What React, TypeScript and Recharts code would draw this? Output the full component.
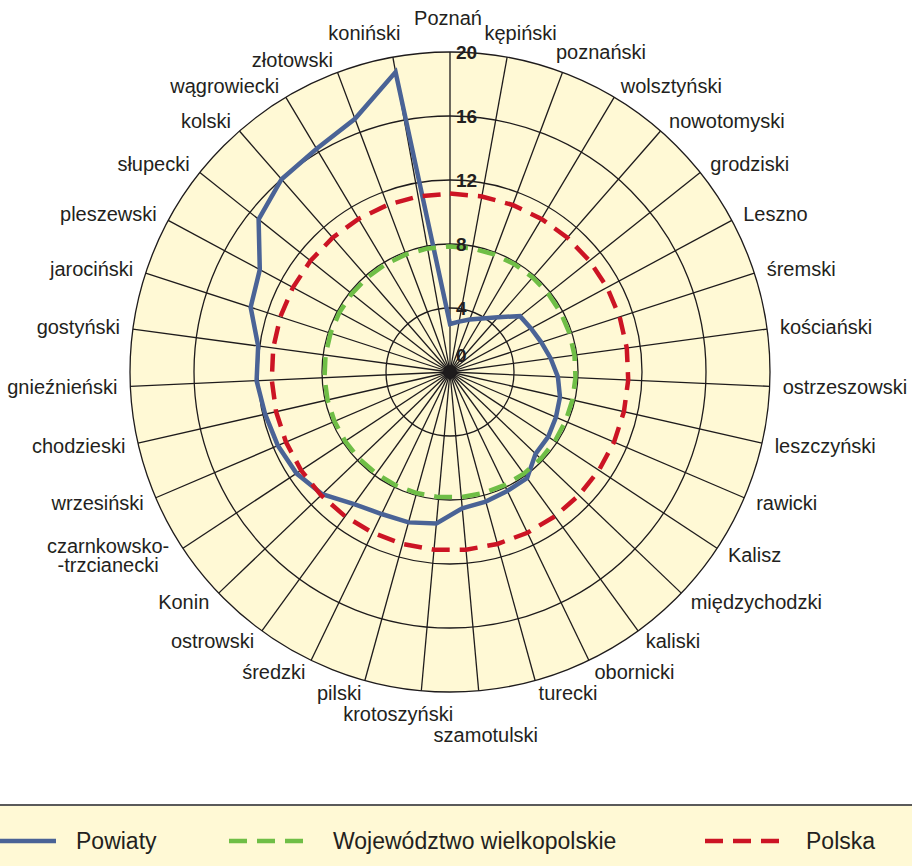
import React from "react";
import { RadarChart, Radar, PolarGrid, PolarAngleAxis, PolarRadiusAxis } from "recharts";

const CATEGORIES = [
  "Poznań", "kępiński", "poznański", "wolsztyński", "nowotomyski", "grodziski", "Leszno",
  "śremski", "kościański", "ostrzeszowski", "leszczyński", "rawicki", "Kalisz", "międzychodzki",
  "kaliski", "obornicki", "turecki", "szamotulski", "krotoszyński", "pilski", "średzki",
  "ostrowski", "Konin", "czarnkowsko-trzcianecki", "wrzesiński", "chodzieski", "gnieźnieński",
  "gostyński", "jarociński", "pleszewski", "słupecki", "kolski", "wągrowiecki", "złotowski", "koniński",
];

const POWIATY = [
  3.0, 3.2, 3.5, 3.9, 4.55, 5.6, 5.75, 6.0, 6.35, 6.75, 7.05, 7.2, 7.35, 7.4, 8.2, 8.25, 8.4,
  8.55, 9.5, 9.75, 9.85, 10.2, 11.05, 11.5, 11.7, 11.85, 12.1, 12.1, 13.1, 13.5, 15.3, 16.0,
  16.25, 16.9, 19.05,
];

const WIELKOPOLSKIE = [
  7.85, 7.85, 7.85, 7.85, 7.85, 7.85, 7.85, 7.85, 7.85, 7.85, 7.85, 7.85, 7.85, 7.85, 7.85,
  7.85, 7.85, 7.85, 7.85, 7.85, 7.85, 7.85, 7.85, 7.85, 7.85, 7.85, 7.85, 7.85, 7.85, 7.85,
  7.85, 7.85, 7.85, 7.85, 7.85,
];

const POLSKA = [
  11.15, 11.15, 11.15, 11.15, 11.15, 11.15, 11.15, 11.15, 11.15, 11.15, 11.15, 11.15, 11.15,
  11.15, 11.15, 11.15, 11.15, 11.15, 11.15, 11.15, 11.15, 11.15, 11.15, 11.15, 11.15, 11.15,
  11.15, 11.15, 11.15, 11.15, 11.15, 11.15, 11.15, 11.15, 11.15,
];

const RADIUS_TICKS = [0, 4, 8, 12, 16, 20];

const data = CATEGORIES.map((name, i) => ({
  name,
  powiaty: POWIATY[i],
  woj: WIELKOPOLSKIE[i],
  polska: POLSKA[i],
}));

const CX = 450;
const CY = 372;
const R = 320;
const BG = "#fff9d5";
const FONT = "'Liberation Sans', Arial, sans-serif";

const SERIES = [
  { key: "powiaty", name: "Powiaty", color: "#4a6396", dash: undefined as string | undefined },
  { key: "woj", name: "Województwo wielkopolskie", color: "#6fbe46", dash: "18 10" },
  { key: "polska", name: "Polska", color: "#cc1424", dash: "18 10" },
];

// hand tweaks for labels that were moved off the circle in the original
const NUDGE: Record<string, [number, number]> = {
  "Poznań": [-2, -14],
  "kępiński": [-25, -11],
  "poznański": [-11, -8],
  "koniński": [10, -11],
  "szamotulski": [6, 24],
  "krotoszyński": [-22, 3],
};

function AngleTick(props: any) {
  const { x, y, payload } = props;
  const label: string = payload.value;
  const dx = x - CX;
  const dy = y - CY;
  const len = Math.hypot(dx, dy) || 1;
  const c = dx / len;
  const s = dy / len;
  const [nx, ny] = NUDGE[label] ?? [0, 0];
  const style = { fontFamily: FONT, fontSize: 20, fill: "#231f20" };

  if (label.includes("-")) {
    const cut = label.indexOf("-");
    const l1 = label.slice(0, cut + 1);
    const l2 = label.slice(cut);
    return (
      <text x={x - 64} y={y} textAnchor="middle" style={style}>
        <tspan x={x - 64} y={y - 9} dominantBaseline="central">{l1}</tspan>
        <tspan x={x - 64} y={y + 10} dominantBaseline="central">{l2}</tspan>
      </text>
    );
  }

  let anchor: "start" | "end" | "middle" = "middle";
  let baseline = "central";
  if (c > 0.12) anchor = "start";
  else if (c < -0.12) anchor = "end";
  else baseline = s < 0 ? "auto" : "hanging";

  return (
    <text x={x + nx} y={y + ny} textAnchor={anchor} dominantBaseline={baseline} style={style}>
      {label}
    </text>
  );
}

function RadiusTick(props: any) {
  const { x, y, payload } = props;
  const shift = payload.value === 0 ? -17 : 0;
  return (
    <text
      x={x + 6}
      y={y + shift}
      dominantBaseline="central"
      style={{ fontFamily: FONT, fontSize: 19, fontWeight: 700, fill: "#231f20" }}
    >
      {payload.value}
    </text>
  );
}

const LEGEND_POS = [
  { x1: 0, x2: 56, tx: 76 },
  { x1: 229, x2: 306, tx: 333 },
  { x1: 705, x2: 781, tx: 806 },
];

function LegendBox() {
  return (
    <div
      style={{
        position: "absolute",
        left: 0,
        top: 804,
        width: 912,
        height: 60,
        borderTop: "2px solid #5a5a5a",
        background: BG,
      }}
    >
      <svg width={912} height={60}>
        {SERIES.map((s, i) => (
          <g key={s.key}>
            <line
              x1={LEGEND_POS[i].x1}
              x2={LEGEND_POS[i].x2}
              y1={35}
              y2={35}
              stroke={s.color}
              strokeWidth={4.5}
              strokeDasharray={s.dash}
            />
            <text
              x={LEGEND_POS[i].tx}
              y={35}
              dominantBaseline="central"
              style={{ fontFamily: FONT, fontSize: 23, fill: "#231f20" }}
            >
              {s.name}
            </text>
          </g>
        ))}
      </svg>
    </div>
  );
}

export default function App() {
  return (
    <div style={{ position: "absolute", left: 0, top: 0, width: 912, height: 866, background: "#fff" }}>
      <div
        style={{
          position: "absolute",
          left: CX - R,
          top: CY - R,
          width: 2 * R,
          height: 2 * R,
          borderRadius: "50%",
          background: BG,
        }}
      />
      <div style={{ position: "absolute", left: 0, top: 0 }}>
        <RadarChart
          width={912}
          height={800}
          data={data}
          cx={CX}
          cy={CY}
          outerRadius={R}
          margin={{ top: 0, right: 0, bottom: 0, left: 0 }}
        >
          <PolarGrid gridType="circle" stroke="#1e1b1c" strokeWidth={1.3} />
          <PolarAngleAxis dataKey="name" tick={<AngleTick />} tickLine={false} axisLine={false} tickSize={13} />
          <PolarRadiusAxis
            angle={90}
            domain={[0, 20]}
            ticks={RADIUS_TICKS as any}
            tickCount={6}
            axisLine={false}
            tickLine={false}
            tick={<RadiusTick />}
          />
          {SERIES.map((s) => (
            <Radar
              key={s.key}
              name={s.name}
              dataKey={s.key}
              stroke={s.color}
              strokeWidth={4.5}
              strokeDasharray={s.dash}
              fill="none"
              fillOpacity={0}
              dot={false}
              isAnimationActive={false}
            />
          ))}
        </RadarChart>
      </div>
      {/* dark hub where the spokes meet */}
      <div
        style={{
          position: "absolute",
          left: CX - 7,
          top: CY - 7,
          width: 14,
          height: 14,
          borderRadius: "50%",
          background: "#1e1b1c",
        }}
      />
      <LegendBox />
    </div>
  );
}
